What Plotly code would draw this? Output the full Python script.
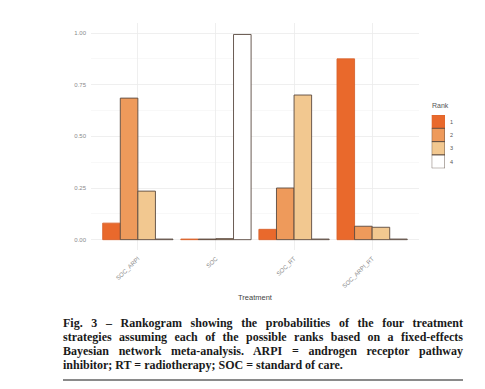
import plotly.graph_objects as go

treatments = ["SOC_ARPI", "SOC", "SOC_RT", "SOC_ARPI_RT"]
ranks = ["1", "2", "3", "4"]
rank1 = [0.08, 0.003, 0.05, 0.875]
rank2 = [0.685, 0.003, 0.25, 0.065]
rank3 = [0.235, 0.005, 0.70, 0.06]
rank4 = [0.003, 0.993, 0.003, 0.003]
rank_values = [rank1, rank2, rank3, rank4]
rank_colors = ["#E9692C", "#EE9A5B", "#F2C890", "#FFFFFF"]
rank_lines = ["#D9642E", "#5a4a40", "#5a4a40", "#5a4a40"]
y_ticks = [0, 0.25, 0.5, 0.75, 1.0]

caption_lines = [
    "Fig. 3 – Rankogram showing the probabilities of the four treatment",
    "strategies assuming each of the possible ranks based on a fixed-effects",
    "Bayesian network meta-analysis. ARPI = androgen receptor pathway",
    "inhibitor; RT = radiotherapy; SOC = standard of care.",
]

W, H = 485, 389
ml, mr, mt, mb = 60, 20, 20, 139
pw = W - ml - mr
ph = H - mt - mb

def px_x(x):
    return (x - ml) / pw

def px_y(y):
    return (H - mb - y) / ph

def clamp(v):
    return min(1.0, max(0.0, v))

fig = go.Figure()
for r, vals, col, lc in zip(ranks, rank_values, rank_colors, rank_lines):
    fig.add_trace(go.Bar(
        x=treatments, y=vals, name=r, marker=dict(color=col, line=dict(color=lc, width=0.9)),
        showlegend=False, xaxis="x", yaxis="y",
    ))

# legend drawn as a small stacked bar on its own axes
fig.add_trace(go.Bar(
    y=ranks, x=[1, 1, 1, 1], orientation="h", width=1,
    marker=dict(color=rank_colors, line=dict(color=rank_lines, width=0.9)),
    showlegend=False, xaxis="x2", yaxis="y2", hoverinfo="skip",
))

fig.update_layout(
    width=W, height=H, autosize=False,
    margin=dict(l=ml, r=mr, t=mt, b=mb),
    paper_bgcolor="white", plot_bgcolor="white",
    barmode="group", bargap=0.1, bargroupgap=0,
    font=dict(family="Liberation Sans, Arial, sans-serif", color="#666"),
    xaxis=dict(
        domain=[clamp(px_x(91)), clamp(px_x(419))], type="category", categoryorder="array",
        categoryarray=treatments, range=[-0.6, 3.6],
        showgrid=True, gridcolor="#ebebeb", gridwidth=0.8, zeroline=False,
        tickangle=-45, tickfont=dict(size=6, color="#8a8a8a"), ticks="", showline=False,
        ticklabelstandoff=3,
    ),
    yaxis=dict(
        domain=[clamp(px_y(250)), clamp(px_y(22.7))], range=[-0.05, 1.05],
        tickvals=y_ticks, tickformat=".2f", tickfont=dict(size=6, color="#8a8a8a"),
        showgrid=True, gridcolor="#ebebeb", gridwidth=0.8, zeroline=False, ticks="",
        minor=dict(showgrid=True, gridcolor="#f4f4f4", gridwidth=0.6, tick0=0.125, dtick=0.25),
        ticklabelstandoff=4,
    ),
    xaxis2=dict(
        domain=[clamp(px_x(431.7)), clamp(px_x(445))], range=[0, 1], visible=False, anchor="y2",
    ),
    yaxis2=dict(
        domain=[clamp(px_y(168.3)), clamp(px_y(115))], type="category", categoryorder="array",
        categoryarray=["4", "3", "2", "1"], range=[-0.5, 3.5], anchor="x2", side="right",
        showgrid=False, zeroline=False, showline=False, ticks="",
        tickfont=dict(size=5.5, color="#555"), ticklabelstandoff=4,
    ),
)

fig.add_annotation(
    text="Rank", xref="paper", yref="paper", x=px_x(431), y=px_y(105),
    xanchor="left", yanchor="middle", showarrow=False, borderpad=0, font=dict(size=7, color="#555"),
)
fig.add_annotation(
    text="Treatment", xref="paper", yref="paper", x=px_x(255), y=px_y(297),
    xanchor="center", yanchor="middle", showarrow=False, font=dict(size=7.5, color="#444"),
)

line_y = [322.5, 336.7, 350.9, 365.3]
for txt, yy in zip(caption_lines, line_y):
    fig.add_annotation(
        text="<b>" + txt + "</b>", xref="paper", yref="paper", x=px_x(62), y=px_y(yy),
        xanchor="left", yanchor="middle", align="left", showarrow=False, borderpad=0,
        font=dict(family="Liberation Serif, serif", size=12, color="#1a1a1a"),
    )

fig.add_shape(
    type="line", xref="paper", yref="paper", x0=px_x(63), x1=px_x(463),
    y0=px_y(380), y1=px_y(380), line=dict(color="#8a8a8a", width=2),
)

# remove default page margin and justify the first three caption lines to 400px
post = """
document.body.style.margin = '0';
var gd = document.getElementById('{plot_id}');
var full = %s;
gd.querySelectorAll('text.annotation-text').forEach(function(t) {
  var s = t.textContent;
  if (full.indexOf(s) >= 0) {
    var len = t.getComputedTextLength();
    var gaps = (s.match(/ /g) || []).length;
    if (gaps > 0) { t.style.wordSpacing = ((400 - len) / gaps) + 'px'; }
  }
});
""" % str([caption_lines[0], caption_lines[1], caption_lines[2]]).replace("'", '"')

fig.write_html("out.html", post_script=post, config={"displayModeBar": False, "staticPlot": True})
